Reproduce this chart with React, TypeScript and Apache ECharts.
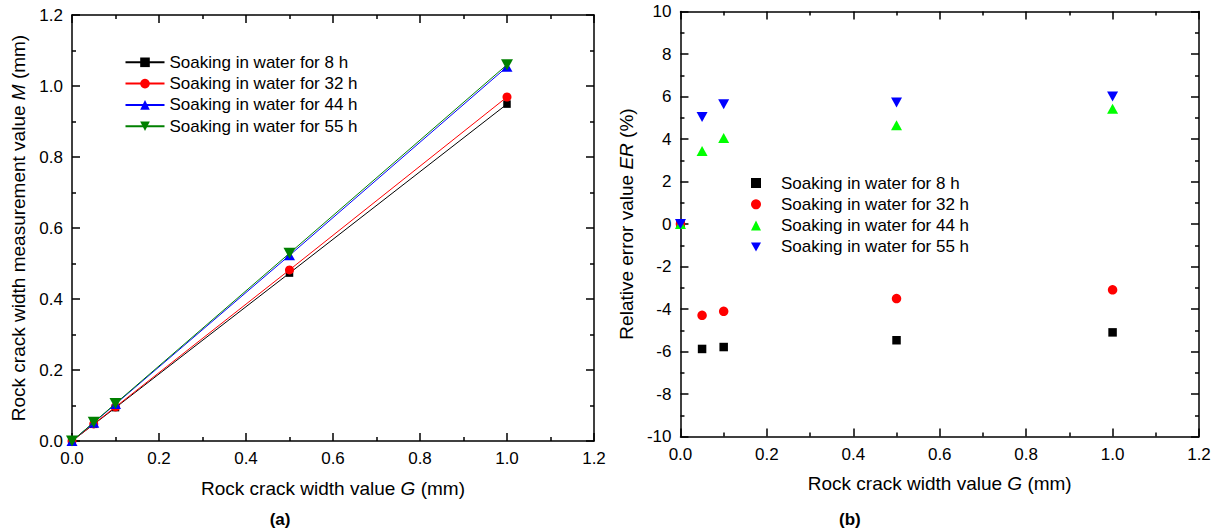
import React, { useEffect, useRef } from "react";
import * as echarts from "echarts";

const G = [0, 0.05, 0.1, 0.5, 1.0];
const seriesNames = [
  "Soaking in water for 8 h",
  "Soaking in water for 32 h",
  "Soaking in water for 44 h",
  "Soaking in water for 55 h",
];
const M8 = [0, 0.047, 0.094, 0.473, 0.949];
const M32 = [0, 0.048, 0.096, 0.482, 0.969];
const M44 = [0, 0.0517, 0.104, 0.523, 1.054];
const M55 = [0, 0.0525, 0.1056, 0.529, 1.06];
const ER8 = [0, -5.88, -5.79, -5.47, -5.1];
const ER32 = [0, -4.3, -4.11, -3.51, -3.1];
const ER44 = [0, 3.43, 4.05, 4.65, 5.42];
const ER55 = [0, 5.04, 5.63, 5.72, 6.0];

const FONT = "Liberation Sans, Arial, sans-serif";
const DOWN_TRI = "path://M0,0L10,0L5,9Z";

const zip = (xs: number[], ys: number[]) => xs.map((x, i) => [x, ys[i]]);

function mkAxis(opts: any) {
  const { min, max, interval, position, labels, gridIndex, fmt, name, nameGap, rotate } = opts;
  return {
    type: "value",
    gridIndex,
    position,
    min,
    max,
    interval,
    name: name || "",
    nameLocation: "middle",
    nameGap: nameGap || 0,
    nameRotate: rotate,
    nameTextStyle: {
      fontSize: 19,
      color: "#000",
      fontFamily: FONT,
      rich: { i: { fontStyle: "italic", fontSize: 19, color: "#000", fontFamily: FONT } },
    },
    axisLine: { show: true, onZero: false, lineStyle: { color: "#000", width: 1.5 } },
    axisTick: { show: true, inside: true, length: 8, lineStyle: { color: "#000", width: 1.5 } },
    minorTick: { show: true, splitNumber: 2, length: 4, lineStyle: { color: "#000", width: 1.5 } },
    splitLine: { show: false },
    minorSplitLine: { show: false },
    axisLabel: {
      show: labels,
      color: "#000",
      fontSize: 17,
      fontFamily: FONT,
      margin: 9,
      formatter: fmt,
    },
  };
}

function Chart({ option, style }: { option: any; style: any }) {
  const ref = useRef<HTMLDivElement>(null);
  useEffect(() => {
    const chart = echarts.init(ref.current!, undefined, { renderer: "svg" });
    chart.setOption(option);
    return () => chart.dispose();
  }, []);
  return <div ref={ref} style={style} />;
}

const f1 = (v: number) => v.toFixed(1);
const f0 = (v: number) => String(Math.round(v));

const leftColors = ["#000000", "#ff0000", "#0000ff", "#008000"];
const rightColors = ["#000000", "#ff0000", "#00ff00", "#0000ff"];
const leftSymbols = ["rect", "circle", "triangle", DOWN_TRI];
const leftSizes: any[] = [7.5, 9, [11, 10], [12, 11]];
const rightSizes: any[] = [8.5, 9.5, [11, 10], [11, 10]];
const mData = [M8, M32, M44, M55];
const erData = [ER8, ER32, ER44, ER55];

const leftOption = {
  animation: false,
  backgroundColor: "#fff",
  grid: [{ left: 72, top: 15, width: 522, height: 426 }],
  xAxis: [
    mkAxis({ min: 0, max: 1.2, interval: 0.2, position: "bottom", labels: true, gridIndex: 0, fmt: f1,
      name: "Rock crack width value {i|G} (mm)", nameGap: 37.5 }),
    mkAxis({ min: 0, max: 1.2, interval: 0.2, position: "top", labels: false, gridIndex: 0, fmt: f1 }),
  ],
  yAxis: [
    mkAxis({ min: 0, max: 1.2, interval: 0.2, position: "left", labels: true, gridIndex: 0, fmt: f1,
      name: "Rock crack width measurement value {i|M} (mm)", nameGap: 40.5, rotate: 90 }),
    mkAxis({ min: 0, max: 1.2, interval: 0.2, position: "right", labels: false, gridIndex: 0, fmt: f1 }),
  ],
  legend: {
    orient: "vertical",
    left: 124.5,
    top: 53.8,
    padding: 0,
    itemWidth: 39,
    itemHeight: 12,
    itemGap: 4.3,
    textStyle: { fontSize: 17, fontFamily: FONT, color: "#000" },
    data: seriesNames,
  },
  series: seriesNames.map((n, k) => ({
    name: n,
    type: "line",
    xAxisIndex: 0,
    yAxisIndex: 0,
    data: zip(G, mData[k]),
    symbol: leftSymbols[k],
    symbolSize: leftSizes[k],
    showSymbol: true,
    lineStyle: { color: leftColors[k], width: 1 },
    itemStyle: { color: leftColors[k] },
    z: 2 + k,
  })),
  graphic: [
    {
      type: "text",
      left: 283.7 - 14,
      top: 511,
      style: { text: "(a)", fontSize: 17, fontWeight: "bold", fontFamily: FONT, fill: "#000" },
    },
  ],
};

const rightOption = {
  animation: false,
  backgroundColor: "#fff",
  grid: [{ left: 68, top: 11.5, width: 522, height: 425 }],
  xAxis: [
    mkAxis({ min: 0, max: 1.2, interval: 0.2, position: "bottom", labels: true, gridIndex: 0, fmt: f1,
      name: "Rock crack width value {i|G} (mm)", nameGap: 37.5 }),
    mkAxis({ min: 0, max: 1.2, interval: 0.2, position: "top", labels: false, gridIndex: 0, fmt: f1 }),
  ],
  yAxis: [
    mkAxis({ min: -10, max: 10, interval: 2, position: "left", labels: true, gridIndex: 0, fmt: f0,
      name: "Relative error value {i|ER} (%)", nameGap: 42, rotate: 90 }),
    mkAxis({ min: -10, max: 10, interval: 2, position: "right", labels: false, gridIndex: 0, fmt: f0 }),
  ],
  legend: {
    orient: "vertical",
    left: 142,
    top: 174.5,
    padding: 0,
    itemWidth: 10,
    itemHeight: 10,
    itemGap: 4.3,
    textStyle: { fontSize: 17, fontFamily: FONT, color: "#000", padding: [0, 0, 0, 15] },
    data: seriesNames,
  },
  series: seriesNames.map((n, k) => ({
    name: n,
    type: "scatter",
    xAxisIndex: 0,
    yAxisIndex: 0,
    data: zip(G, erData[k]),
    symbol: leftSymbols[k],
    symbolSize: rightSizes[k],
    itemStyle: { color: rightColors[k], opacity: 1 },
    z: 2 + k,
  })),
  graphic: [
    {
      type: "text",
      left: 244 - 14,
      top: 511,
      style: { text: "(b)", fontSize: 17, fontWeight: "bold", fontFamily: FONT, fill: "#000" },
    },
  ],
};

export default function App() {
  return (
    <div style={{ position: "fixed", left: 0, top: 0, width: 1219, height: 532, background: "#fff" }}>
      <Chart option={leftOption} style={{ position: "absolute", left: 0, top: 0, width: 609, height: 532 }} />
      <Chart option={rightOption} style={{ position: "absolute", left: 609, top: 0, width: 610, height: 532 }} />
    </div>
  );
}
